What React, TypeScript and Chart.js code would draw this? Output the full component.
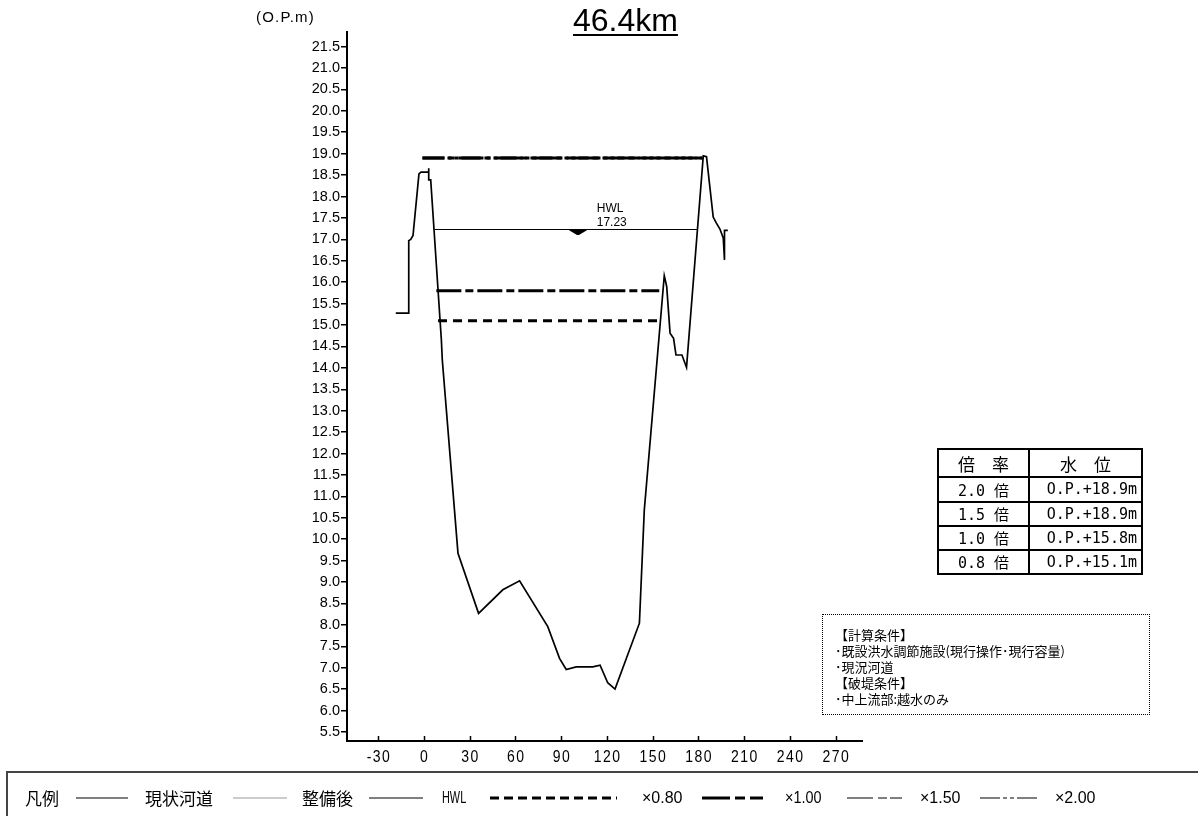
import React, { useEffect, useRef } from 'react';
import { Chart, registerables } from 'chart.js';

Chart.register(...registerables);

// Cross-section profile (distance m, elevation O.P.m)
const profileX = [-18.5, -10.0, -10.0, -8.7, -7.2, -3.3, -2.0, 2.2, 3.1, 3.1, 3.1, 4.4, 11.4, 12.0, 22.3, 35.8, 51.7, 62.7, 81.2, 88.9, 93.3, 99.8, 110.7, 115.5, 120.5, 125.3, 141.3, 144.5, 157.6, 159.2, 161.4, 163.7, 165.3, 169.2, 172.2, 183.2, 185.3, 189.7, 191.8, 194.1, 196.3, 197.1, 197.1, 199.3];
const profileY = [15.28, 15.28, 16.97, 17.0, 17.09, 18.53, 18.57, 18.57, 18.57, 18.66, 18.39, 18.39, 14.65, 14.19, 9.67, 8.27, 8.82, 9.03, 7.96, 7.22, 6.96, 7.02, 7.02, 7.06, 6.65, 6.5, 8.04, 10.68, 16.15, 15.9, 14.81, 14.69, 14.3, 14.3, 14.01, 18.95, 18.93, 17.52, 17.38, 17.24, 17.03, 16.52, 17.21, 17.21];

// Water levels per flood ratio
const wlNames = ['×0.80', '×1.00', '×1.50', '×2.00'];
const wlLevels = [15.1, 15.8, 18.9, 18.9];
const wlStart = [9.2, 8.1, -1.0, -1.0];
const wlEnd = [153.2, 154.3, 182.7, 182.7];

const hwlLevel = 17.23;
const hwlStart = 7.0;
const hwlEnd = 179.0;
const hwlLabelX = 113.3;
const hwlMarkX = 101.0;

const xTicks = [-30, 0, 30, 60, 90, 120, 150, 180, 210, 240, 270];
const yTicks = [5.5, 6.0, 6.5, 7.0, 7.5, 8.0, 8.5, 9.0, 9.5, 10.0, 10.5, 11.0, 11.5, 12.0, 12.5, 13.0, 13.5, 14.0, 14.5, 15.0, 15.5, 16.0, 16.5, 17.0, 17.5, 18.0, 18.5, 19.0, 19.5, 20.0, 20.5, 21.0, 21.5];

const tableRatios = ['2.0 倍', '1.5 倍', '1.0 倍', '0.8 倍'];
const tableLevels = ['O.P.+18.9m', 'O.P.+18.9m', 'O.P.+15.8m', 'O.P.+15.1m'];

const notes = ['【計算条件】', '･既設洪水調節施設(現行操作･現行容量)', '･現況河道', '【破堤条件】', '･中上流部:越水のみ'];

const wlDash = [[9, 6], [25, 4, 8, 4], [22, 4, 6, 4], [22, 3, 4, 3, 4, 3]];

const customPlugin = {
  id: 'custom',
  afterDraw(chart: any) {
    const { ctx, chartArea, scales } = chart;
    const x = scales.x;
    const y = scales.y;
    const bottom = chartArea.bottom;
    ctx.save();
    ctx.strokeStyle = '#000';
    ctx.lineWidth = 1.5;
    xTicks.forEach((v) => {
      const px = Math.round(x.getPixelForValue(v)) + 0.5;
      ctx.beginPath();
      ctx.moveTo(px, bottom);
      ctx.lineTo(px, bottom - 5);
      ctx.stroke();
    });
    ctx.fillStyle = '#000';
    ctx.font = '14px "Liberation Sans", Arial, sans-serif';
    (ctx as any).letterSpacing = '1.5px';
    ctx.textAlign = 'center';
    ctx.textBaseline = 'middle';
    xTicks.forEach((v) => {
      const px = x.getPixelForValue(v);
      ctx.save();
      ctx.translate(px + 0.75, bottom + 17);
      ctx.scale(1, 1.15);
      ctx.fillText(String(v), 0, 0);
      ctx.restore();
    });
    (ctx as any).letterSpacing = '0px';
    // HWL label
    const hy = y.getPixelForValue(hwlLevel);
    const lx = x.getPixelForValue(hwlLabelX);
    ctx.textAlign = 'left';
    ctx.font = '12px "Liberation Sans", Arial, sans-serif';
    ctx.save();
    ctx.translate(lx, hy - 21);
    ctx.scale(1, 1.12);
    ctx.fillText('HWL', 0, 0);
    ctx.restore();
    ctx.save();
    ctx.translate(lx, hy - 7);
    ctx.scale(1, 1.12);
    ctx.fillText('17.23', 0, 0);
    ctx.restore();
    // HWL marker
    const mx = x.getPixelForValue(hwlMarkX);
    ctx.beginPath();
    ctx.moveTo(mx - 10, hy);
    ctx.lineTo(mx + 10, hy);
    ctx.lineTo(mx + 6, hy + 2.5);
    ctx.lineTo(mx + 1, hy + 5.5);
    ctx.lineTo(mx - 1, hy + 5.5);
    ctx.lineTo(mx - 6, hy + 2.5);
    ctx.closePath();
    ctx.fill();
    ctx.restore();
  },
};

export default function App() {
  const ref = useRef<HTMLCanvasElement>(null);
  useEffect(() => {
    const datasets: any[] = [
      {
        label: '現状河道',
        data: profileX.map((v, i) => ({ x: v, y: profileY[i] })),
        borderColor: '#000',
        borderWidth: 1.7,
        showLine: true,
        pointRadius: 0,
        fill: false,
      },
      {
        label: 'HWL',
        data: [{ x: hwlStart, y: hwlLevel }, { x: hwlEnd, y: hwlLevel }],
        borderColor: '#000',
        borderWidth: 1,
        showLine: true,
        pointRadius: 0,
      },
    ];
    wlNames.forEach((n, i) => {
      datasets.push({
        label: n,
        data: [{ x: wlStart[i], y: wlLevels[i] }, { x: wlEnd[i], y: wlLevels[i] }],
        borderColor: '#000',
        borderWidth: 3,
        borderDash: wlDash[i],
        showLine: true,
        pointRadius: 0,
      });
    });
    const chart = new Chart(ref.current as HTMLCanvasElement, {
      type: 'scatter',
      data: { datasets },
      options: {
        animation: false,
        responsive: false,
        maintainAspectRatio: false,
        devicePixelRatio: 1,
        layout: { padding: { left: 287, top: 32, right: 336, bottom: 35 } },
        plugins: { legend: { display: false }, tooltip: { enabled: false } },
        scales: {
          x: {
            type: 'linear',
            min: -50.5,
            max: 287.3,
            afterBuildTicks: (s: any) => {
              s.ticks = xTicks.map((v) => ({ value: v }));
            },
            afterFit: (s: any) => {
              s.height = 40;
            },
            grid: { display: false },
            border: { display: true, color: '#000', width: 2 },
            ticks: { display: false },
          },
          y: {
            type: 'linear',
            min: 5.29,
            max: 21.84,
            afterBuildTicks: (s: any) => {
              s.ticks = yTicks.map((v) => ({ value: v }));
            },
            afterFit: (s: any) => {
              s.width = 60;
            },
            grid: { drawOnChartArea: false, drawTicks: true, tickLength: 6, color: '#000', lineWidth: 1.5 },
            border: { display: true, color: '#000', width: 2 },
            ticks: {
              color: '#000',
              autoSkip: false,
              padding: 1,
              font: { family: '"Liberation Sans", Arial, sans-serif', size: 14.5 },
              callback: (v: any) => Number(v).toFixed(1),
            },
          },
        },
      } as any,
      plugins: [customPlugin],
    });
    return () => chart.destroy();
  }, []);

  const sans = '"Liberation Sans", Arial, sans-serif';
  const cjk = '"Noto Sans CJK JP", sans-serif';
  const legendY = 798;
  const lt = (left: number, text: string, font: string, size: number, sx = 1) => (
    <span
      key={text + left}
      style={{
        position: 'absolute',
        left,
        top: legendY - 12,
        lineHeight: '24px',
        fontSize: size,
        fontFamily: font,
        whiteSpace: 'nowrap',
        color: '#000',
        transform: `scaleX(${sx})`,
        transformOrigin: 'left center',
      }}
    >
      {text}
    </span>
  );

  const cellBorder = '2px solid #000';

  return (
    <div style={{ position: 'absolute', left: 0, top: 0, width: 1198, height: 816, overflow: 'hidden', background: '#fff' }}>
      <canvas ref={ref} width={1198} height={816} style={{ position: 'absolute', left: 0, top: 0, width: 1198, height: 816 }} />
      <div style={{ position: 'absolute', left: 256, top: 7, fontFamily: sans, fontSize: 15, letterSpacing: '1.2px', lineHeight: '20px', whiteSpace: 'nowrap' }}>(O.P.m)</div>
      <div
        style={{
          position: 'absolute',
          left: 573,
          top: 3,
          fontFamily: sans,
          fontSize: 32,
          lineHeight: '34px',
          whiteSpace: 'nowrap',
          textDecoration: 'underline',
          textDecorationThickness: '2px',
          textUnderlineOffset: '3px',
        }}
      >
        46.4km
      </div>

      <table
        style={{
          position: 'absolute',
          left: 937,
          top: 448,
          width: 206,
          height: 127,
          borderCollapse: 'collapse',
          border: cellBorder,
          fontFamily: '"DejaVu Sans Mono", "Noto Sans CJK JP", monospace',
          fontSize: 15,
        }}
      >
        <tbody>
          <tr>
            <td style={{ border: cellBorder, width: 89, textAlign: 'center', padding: 0, fontFamily: cjk, fontSize: 17 }}>倍　率</td>
            <td style={{ border: cellBorder, textAlign: 'center', padding: 0, fontFamily: cjk, fontSize: 17 }}>水　位</td>
          </tr>
          {tableRatios.map((r, i) => (
            <tr key={r}>
              <td style={{ border: cellBorder, textAlign: 'center', padding: 0 }}>{r}</td>
              <td style={{ border: cellBorder, textAlign: 'right', padding: '0 4px 0 0' }}>{tableLevels[i]}</td>
            </tr>
          ))}
        </tbody>
      </table>

      <div
        style={{
          position: 'absolute',
          left: 822,
          top: 614,
          width: 328,
          height: 101,
          boxSizing: 'border-box',
          border: '1px dotted #000',
          paddingLeft: 12,
          paddingTop: 12,
          fontFamily: cjk,
          fontSize: 13,
          lineHeight: '16px',
        }}
      >
        {notes.map((n) => (
          <div key={n} style={{ whiteSpace: 'nowrap' }}>{n}</div>
        ))}
      </div>

      <div style={{ position: 'absolute', left: 6, top: 771, width: 1300, height: 80, borderTop: '2px solid #444', borderLeft: '2px solid #444' }} />
      <svg style={{ position: 'absolute', left: 0, top: legendY - 18 }} width={1198} height={36}>
        <line x1={76} x2={128} y1={18} y2={18} stroke="#000" strokeWidth={1} />
        <line x1={233} x2={287} y1={18} y2={18} stroke="#999" strokeWidth={1} />
        <line x1={369} x2={423} y1={18} y2={18} stroke="#000" strokeWidth={1} />
        <line x1={490} x2={617} y1={18} y2={18} stroke="#000" strokeWidth={3} strokeDasharray="9 5" />
        <line x1={702} x2={763} y1={18} y2={18} stroke="#000" strokeWidth={3} strokeDasharray="28 5 10 5" />
        <line x1={847} x2={902} y1={18} y2={18} stroke="#000" strokeWidth={1.2} strokeDasharray="26 5 9 3" />
        <line x1={980} x2={1037} y1={18} y2={18} stroke="#000" strokeWidth={1.2} strokeDasharray="20 3 4 3 4 3" />
      </svg>
      {lt(25, '凡例', cjk, 17)}
      {lt(145, '現状河道', cjk, 17)}
      {lt(302, '整備後', cjk, 17)}
      {lt(442, 'HWL', sans, 16, 0.68)}
      {lt(642, wlNames[0], sans, 16)}
      {lt(785, wlNames[1], sans, 16, 0.9)}
      {lt(920, wlNames[2], sans, 16)}
      {lt(1055, wlNames[3], sans, 16)}
    </div>
  );
}
